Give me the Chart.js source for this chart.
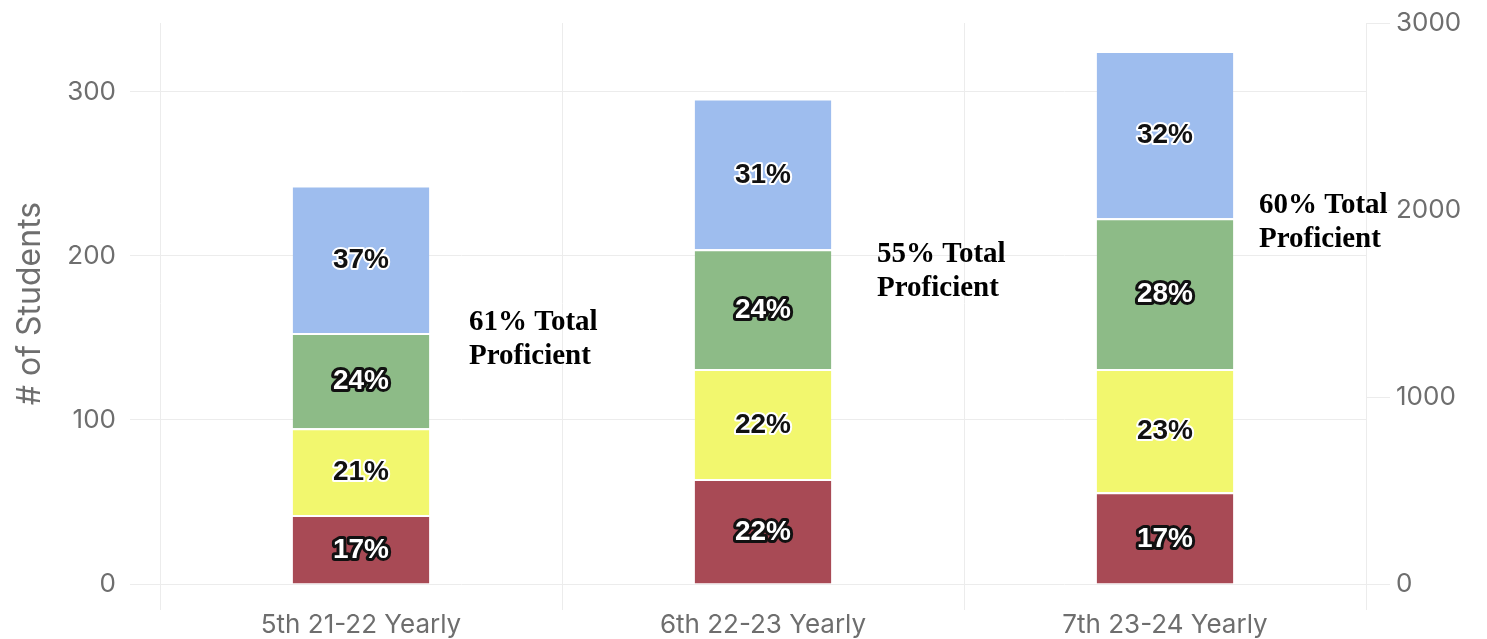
<!DOCTYPE html>
<html>
<head>
<meta charset="utf-8">
<script src="https://cdn.jsdelivr.net/npm/chart.js@4"></script>
<style>
    html, body { margin: 0; padding: 0; background: #fff; }
    #wrap { width: 1487px; height: 639px; }
</style>
</head>
<body>
<div id="wrap"><canvas id="studentsChart" width="1487" height="639"></canvas></div>
<script>
// Data
const categories = ["5th 21-22 Yearly", "6th 22-23 Yearly", "7th 23-24 Yearly"];
const seriesNames = ["Level 1", "Level 2", "Level 3", "Level 4"];
const level1 = [42, 64, 56];
const level2 = [53, 67, 75];
const level3 = [58, 73, 92];
const level4 = [90, 92, 102];
const level1Pct = ["17%", "22%", "17%"];
const level2Pct = ["21%", "22%", "23%"];
const level3Pct = ["24%", "24%", "28%"];
const level4Pct = ["37%", "31%", "32%"];
const totalProficient = [61, 55, 60];
const leftTicks = [0, 100, 200, 300];
const rightTicks = [0, 1000, 2000, 3000];

const colors = ["#a84a55", "#f2f76e", "#8dbb87", "#9ebdee"];
const pctLabels = [level1Pct, level2Pct, level3Pct, level4Pct];
// white fill + dark outline on the darker segments
const labelStyle = [
    { fill: "#fff", stroke: "#111", width: 6 },
    { fill: "#111", stroke: "#fff", width: 4 },
    { fill: "#fff", stroke: "#111", width: 6 },
    { fill: "#111", stroke: "#fff", width: 4 },
];

// Percent labels inside the segments
const segmentLabels = {
    id: "segmentLabels",
    afterDatasetsDraw(chart) {
        const ctx = chart.ctx;
        ctx.save();
        ctx.font = "bold 28px 'Liberation Sans', Arial, sans-serif";
        ctx.textAlign = "center";
        ctx.textBaseline = "middle";
        ctx.lineJoin = "round";
        chart.data.datasets.forEach((ds, i) => {
            const meta = chart.getDatasetMeta(i);
            if (meta.yAxisID !== "y") return;
            meta.data.forEach((bar, j) => {
                const p = bar.getCenterPoint();
                const st = labelStyle[i];
                ctx.lineWidth = st.width;
                ctx.strokeStyle = st.stroke;
                ctx.strokeText(pctLabels[i][j], p.x, p.y + 1);
                ctx.fillStyle = st.fill;
                ctx.fillText(pctLabels[i][j], p.x, p.y + 1);
            });
        });
        ctx.restore();
    },
};

// "xx% Total Proficient" notes beside each bar
const noteY = [155, 196, 226];
const noteDx = [108, 114, 94];
const proficientNotes = {
    id: "proficientNotes",
    afterDraw(chart) {
        const ctx = chart.ctx;
        const xs = chart.scales.x;
        const ys = chart.scales.y;
        ctx.save();
        ctx.font = "bold 29px 'Liberation Serif', 'Times New Roman', serif";
        ctx.fillStyle = "#000";
        ctx.textAlign = "left";
        ctx.textBaseline = "alphabetic";
        totalProficient.forEach((v, j) => {
            const x = xs.getPixelForValue(j) + noteDx[j];
            const y = ys.getPixelForValue(noteY[j]);
            ctx.fillText(v + "% Total", x, y);
            ctx.fillText("Proficient", x, y + 34);
        });
        ctx.restore();
    },
};

const tickFont = { family: "Inter, 'Open Sans', sans-serif", size: 26 };
const gridColor = "#ececec";

const ctx = document.getElementById("studentsChart").getContext("2d");
new Chart(ctx, {
    type: "bar",
    data: {
        labels: categories,
        datasets: [level1, level2, level3, level4].map((vals, i) => ({
            label: seriesNames[i],
            data: vals,
            backgroundColor: colors[i],
            borderColor: "#fff",
            borderWidth: { top: 2, bottom: 0, left: 0, right: 0 },
            borderSkipped: false,
            yAxisID: "y",
            barPercentage: 0.68,
            categoryPercentage: 0.5,
        })),
    },
    options: {
        responsive: false,
        animation: false,
        layout: { padding: { top: 23 } },
        plugins: {
            legend: { display: false },
            tooltip: { enabled: false },
        },
        scales: {
            x: {
                stacked: true,
                offset: true,
                grid: { color: gridColor, offset: true, tickLength: 26, drawTicks: true },
                border: { display: false },
                ticks: { color: "#6e6e6e", font: tickFont, padding: 0 },
                afterFit(scale) { scale.height = 55; },
            },
            y: {
                stacked: true,
                position: "left",
                min: 0,
                max: 342,
                afterBuildTicks(scale) { scale.ticks = leftTicks.map((v) => ({ value: v })); },
                grid: { color: gridColor, tickLength: 30 },
                border: { display: false },
                ticks: { color: "#6e6e6e", font: tickFont, padding: 14 },
                title: {
                    display: true,
                    text: "# of Students",
                    color: "#6e6e6e",
                    font: { ...tickFont, size: 32 },
                    padding: { top: 11, bottom: 0 },
                },
                afterFit(scale) {
                    scale.width = 160;
                    scale.paddingTop = 0;
                },
            },
            y1: {
                position: "right",
                min: 0,
                max: 3000,
                afterBuildTicks(scale) { scale.ticks = rightTicks.map((v) => ({ value: v })); },
                grid: { color: gridColor, drawOnChartArea: false, tickLength: 24 },
                border: { display: true, color: gridColor },
                ticks: {
                    color: "#6e6e6e",
                    font: tickFont,
                    padding: 6,
                    callback: (v) => String(v),
                },
                afterFit(scale) {
                    scale.width = 121;
                    scale.paddingTop = 0;
                },
            },
        },
    },
    plugins: [segmentLabels, proficientNotes],
});
</script>
</body>
</html>
